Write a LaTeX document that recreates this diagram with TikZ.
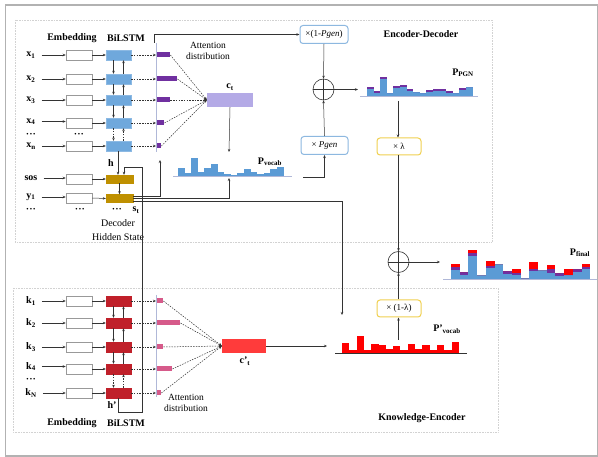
\documentclass[tikz,border=0pt]{standalone}
\usepackage{fontspec}
\setmainfont{Liberation Serif}
\usetikzlibrary{arrows.meta,calc}
\definecolor{lstmblue}{HTML}{6FA8DC}
\definecolor{decgold}{HTML}{BF9000}
\definecolor{kred}{HTML}{C0202A}
\definecolor{attpurple}{HTML}{7030A0}
\definecolor{attpink}{HTML}{D65A8A}
\definecolor{ctpurple}{HTML}{B4AAE6}
\definecolor{ckred}{HTML}{FF3B3B}
\definecolor{barblue}{HTML}{5B9BD5}
\definecolor{barred}{HTML}{FF0000}
\definecolor{boxblue}{HTML}{8DB8E0}
\definecolor{boxyellow}{HTML}{F0D050}
\definecolor{linec}{HTML}{333333}
\definecolor{attline}{HTML}{B0B8D8}
\tikzset{
  arr/.style={draw=linec,line width=0.5pt,-{Stealth[length=3pt,width=2.5pt]}},
  plain/.style={draw=linec,line width=0.5pt},
  dasharr/.style={draw=linec,line width=0.5pt,dash pattern=on 1.5pt off 1.2pt,-{Stealth[length=3pt,width=2.5pt]}},
  dashln/.style={draw=linec,line width=0.4pt,dash pattern=on 1.5pt off 1.2pt},
  emb/.style={draw=gray!80,fill=white,line width=0.5pt,minimum width=26pt,minimum height=10pt,inner sep=0pt},
  enc/.style={fill=lstmblue,draw=lstmblue!80!white,minimum width=25pt,minimum height=10pt,inner sep=0pt},
  kenc/.style={fill=kred,draw=kred,minimum width=25pt,minimum height=10pt,inner sep=0pt},
  decb/.style={fill=decgold,draw=decgold,minimum width=27pt,minimum height=8pt,inner sep=0pt},
  abar/.style={anchor=west,minimum height=5pt,inner sep=0pt},
  lbl/.style={font=\fontsize{10}{12}\selectfont\bfseries,inner sep=1pt},
  dotsl/.style={font=\fontsize{10}{10}\selectfont\bfseries,inner sep=0pt},
  txt/.style={font=\fontsize{9.5}{11}\selectfont,inner sep=1pt,align=center},
  opbox/.style={draw=boxblue,line width=1pt,rounded corners=3pt,minimum height=18pt,inner sep=1pt,font=\fontsize{9}{11}\selectfont},
  lbox/.style={draw=boxyellow,line width=1pt,rounded corners=3pt,minimum width=44pt,minimum height=17pt,inner sep=1pt,font=\fontsize{9}{11}\selectfont},
  plusc/.style={circle,draw=linec,line width=0.6pt,minimum size=21pt,inner sep=0pt,
    path picture={\draw[linec,line width=0.5pt] (path picture bounding box.north) -- (path picture bounding box.south) (path picture bounding box.west) -- (path picture bounding box.east);}},
  region/.style={draw=gray!35,line width=0.6pt,densely dotted}
}
\begin{document}
\begin{tikzpicture}[x=1pt,y=-1pt]
\useasboundingbox (0,0) rectangle (598,457);
\fill[white] (0,0) rectangle (598,457);
\draw[gray!60,line width=1.2pt] (5.5,5) rectangle (597.5,456);
\draw[region] (15,20) rectangle (492,242);
\draw[region] (13,288) rectangle (498,432);

% ---------- Encoder ----------
\node[lbl] (hemb) at (72,38) {Embedding};
\node[lbl] (hlstm) at (126,38) {BiLSTM};
\coordinate (attT) at (156,43);
\coordinate (attB) at (156,152);
\draw[attline,line width=0.8pt] (attT) -- (attB);
\node[fill=ctpurple,minimum width=46pt,minimum height=14pt,inner sep=0pt] (ct) at (230,100) {};
\node[lbl] (ctl) at (230,87) {c\textsubscript{t}};
\foreach \i/\y/\w in {1/55/13,2/79/20,3/100/13,4/123/7,n/146/4}{
  \node[enc] (l\i) at (118.5,\y) {};
  \node[emb] (e\i) at (79,\y) {};
  \node[abar,fill=attpurple,minimum width=\w pt] (a\i) at (157,\y) {};
  \draw[arr] (e\i.east) -- (l\i.west);
  \draw[dasharr] (l\i.east) -- (l\i.east -| attT);
  \draw[dasharr] (a\i.east) -- (ct.west);
}
\foreach \i/\y in {1/55,2/79,3/100,4/121.5,n/146}{
  \node[lbl] (x\i) at (31,\y) {x\textsubscript{\i}};
  \draw[arr,shorten <=5pt] (x\i.east) -- (x\i.east -| e\i.west);
}
\foreach \a/\b in {1/2,2/3,3/4}{
  \draw[arr] ([xshift=-5pt]l\a.south) -- ([xshift=-5pt]l\b.north);
  \draw[arr] ([xshift=5pt]l\b.north) -- ([xshift=5pt]l\a.south);
}
\draw[dasharr] ([xshift=-5pt]l4.south) -- ([xshift=-5pt]ln.north);
\draw[dasharr] ([xshift=5pt]ln.north) -- ([xshift=5pt]l4.south);
\node[dotsl] (xdots) at (31,135) {···};
\node[dotsl] (edots) at (79,135) {···};
\node[txt] (attxt) at (208,51) {Attention\\distribution};

% ---------- Decoder ----------
\node[lbl] (sos) at (31,178) {sos};
\node[lbl] (y1) at (31,197) {y\textsubscript{1}};
\node[emb] (es) at (79,179) {};
\node[emb] (ey) at (79,198) {};
\node[decb] (ds) at (119.5,179) {};
\node[decb] (dy) at (119.5,198.5) {};
\draw[arr,shorten <=5pt] (sos.east) -- (sos.east -| es.west);
\draw[arr,shorten <=5pt] (y1.east) -- (y1.east -| ey.west);
\draw[arr] (es.east) -- (ds.west);
\draw[arr] (ey.east) -- (dy.west);
\draw[arr] (ds.south) -- (dy.north);
\draw[arr] (ln.south -| ds.north) ++(-1.5,0) -- ([xshift=-1.5pt]ds.north);
\node[lbl] (hl) at (111,163) {h};
\node[dotsl] (ddots1) at (31,210) {···};
\node[dotsl] (ddots2) at (80,210) {···};
\node[dotsl] (ddots3) at (117,210) {···};
\node[lbl] (stl) at (136,210) {s\textsubscript{t}};
\node[txt,font=\fontsize{10}{14}\selectfont] (dhs) at (118,230) {Decoder\\Hidden State};

% ---------- Pvocab ----------
\draw[attline,line width=0.8pt] (173,176) -- (292,176);
\foreach \h [count=\k from 0] in {8,3,18,4,8,12,4,2,1,3,7,4,2,3,7,9}{
  \fill[barblue] ({178+\k*6.6},176) rectangle ++(6.6,-\h);
}
\node[lbl] (pvl) at (270,162) {P\textsubscript{vocab}};
\coordinate (pvT) at (229,152);
\draw[arr] (ct.south) -- (pvT);

% ---------- Right: pointer generator ----------
\node[opbox,minimum width=48pt] (omp) at (324,34.5) {×(1-\textit{Pgen})};
\node[opbox,minimum width=47pt] (pgen) at (324.5,145.5) {× \textit{Pgen}};
\node[plusc] (plus1) at (323.5,89.5) {};
\node[lbl] (edl) at (421,34) {Encoder-Decoder};
\draw[arr] (omp.south) -- (plus1.north);
\draw[arr] (pgen.north) -- (plus1.south);
\coordinate (ppgnL) at (358,89.5);
\draw[arr] (plus1.east) -- (ppgnL);
\draw[attline,line width=0.8pt] (360,96) -- (478,96);
\foreach \h/\c [count=\k from 0] in {9/2,5/2,19/2,3/0,10/2,11/2,7/2,4/0,3/0,6/2,7/2,7/2,5/2,3/0,8/2,9/0}{
  \fill[barblue] ({367+\k*6.6},96) rectangle ++(6.6,-\h);
  \fill[attpurple] ({367+\k*6.6},{96-\h}) rectangle ++(6.6,\c);
}
\node[lbl] (ppgnl) at (463,73) {P\textsubscript{PGN}};
\draw[arr] (attT) ++(-2,0) |- (omp.west);
\coordinate (pvR) at (303,177);
\draw[arr] (pvR) -| (pgen.south);

\node[lbox] (lam) at (399,146.5) {× λ};
\coordinate (ppgnB) at (398,101);
\draw[arr] (ppgnB) -- (ppgnB |- lam.north);
\node[plusc] (plus2) at (398.5,262) {};
\draw[arr] (lam.south -| plus2.north) -- (plus2.north);
\node[lbox] (olam) at (399,308.5) {× (1-λ)};
\draw[arr] (olam.north -| plus2.south) -- (plus2.south);
\coordinate (pkTop) at (398.5,340);
\draw[arr] (pkTop) -- (pkTop |- olam.south);
\coordinate (pfL) at (440,262);
\draw[arr] (plus2.east) -- (pfL);

% ---------- Pfinal ----------
\draw[attline,line width=0.8pt] (443,279) -- (597,279);
\foreach \h/\r/\p [count=\k from 0] in {15/3/3,7/0/3,29/3/3,4/0/0,18/5/2,15/0/0,8/0/3,10/4/2,1/0/0,17/7/2,9/0/0,14/4/4,6/0/3,10/6/0,10/0/3,15/3/2}{
  \fill[barblue] ({451+\k*8.7},279) rectangle ++(8.7,-\h);
  \fill[attpurple] ({451+\k*8.7},{279-\h+\r}) rectangle ++(8.7,\p);
  \fill[barred] ({451+\k*8.7},{279-\h}) rectangle ++(8.7,\r);
}
\node[lbl] (pfl) at (580,253) {P\textsubscript{final}};

% ---------- Knowledge encoder ----------
\coordinate (kattT) at (156,295);
\coordinate (kattB) at (156,397);
\draw[attline,line width=0.8pt] (kattT) -- (kattB);
\node[fill=ckred,minimum width=44pt,minimum height=14pt,inner sep=0pt] (ckt) at (244,346) {};
\node[lbl] (cktl) at (245,361) {c'\textsubscript{t}};
\foreach \i/\y/\w in {1/301/6,2/323/23,3/347/6,4/369/15,N/393/4}{
  \node[emb] (ke\i) at (79,\y) {};
  \node[kenc] (kl\i) at (118.5,\y) {};
  \node[abar,fill=attpink,minimum width=\w pt] (ka\i) at (157,\y) {};
  \draw[arr] (ke\i.east) -- (kl\i.west);
  \draw[dasharr] (kl\i.east) -- (kl\i.east -| kattT);
  \draw[dasharr] (ka\i.east) -- (ckt.west);
}
\foreach \i/\y in {1/301,2/323,3/347,4/366.5,N/393}{
  \node[lbl] (k\i) at (31,\y) {k\textsubscript{\i}};
  \draw[arr,shorten <=5pt] (k\i.east) -- (k\i.east -| ke\i.west);
}
\foreach \a/\b in {1/2,2/3,3/4}{
  \draw[arr] ([xshift=-5pt]kl\a.south) -- ([xshift=-5pt]kl\b.north);
  \draw[arr] ([xshift=5pt]kl\b.north) -- ([xshift=5pt]kl\a.south);
}
\draw[dasharr] ([xshift=-5pt]kl4.south) -- ([xshift=-5pt]klN.north);
\draw[dasharr] ([xshift=5pt]klN.north) -- ([xshift=5pt]kl4.south);
\node[dotsl] (kdots) at (31,380) {···};
\node[txt] (kattxt) at (186,403) {Attention\\distribution};
\node[lbl] (hpl) at (112,405) {h'};
\node[lbl] (khemb) at (72,423) {Embedding};
\node[lbl] (khlstm) at (126,423) {BiLSTM};
\node[lbl] (kel) at (422,418) {Knowledge-Encoder};

% h' loop into decoder
\coordinate (hp1) at (118.5,412);
\coordinate (hp2) at (142,412);
\coordinate (hp3) at (142,167);
\coordinate (hp4) at (124,167);
\draw[arr] (klN.south) -- (hp1) -- (hp2) -- (hp3) -- (hp4) -- (hp4 |- ds.north);

% s_t outputs
\coordinate (st1) at (160,196);
\coordinate (st1e) at (160,160);
\draw[arr] (dy.east |- st1) -- (st1) -- (st1e);
\coordinate (st2) at (229,198.5);
\draw[arr] (dy.east) -- (st2) -- (229,178);
\coordinate (st3) at (342,201);
\coordinate (st3e) at (342,315);
\draw[arr] (dy.east |- st3) -- (st3) -- (st3e);

% ---------- P'vocab ----------
\coordinate (pkL) at (327,346);
\draw[arr] (ckt.east) -- (pkL);
\draw[linec,line width=0.8pt] (335,353) -- (467,353);
\foreach \h [count=\k from 0] in {10,3,17,3,9,8,4,7,3,9,4,8,3,8,3,11}{
  \fill[barred] ({342+\k*7.3},353) rectangle ++(7.3,-\h);
}
\node[lbl] (pkl) at (447,329) {P'\textsubscript{vocab}};
\end{tikzpicture}
\end{document}
